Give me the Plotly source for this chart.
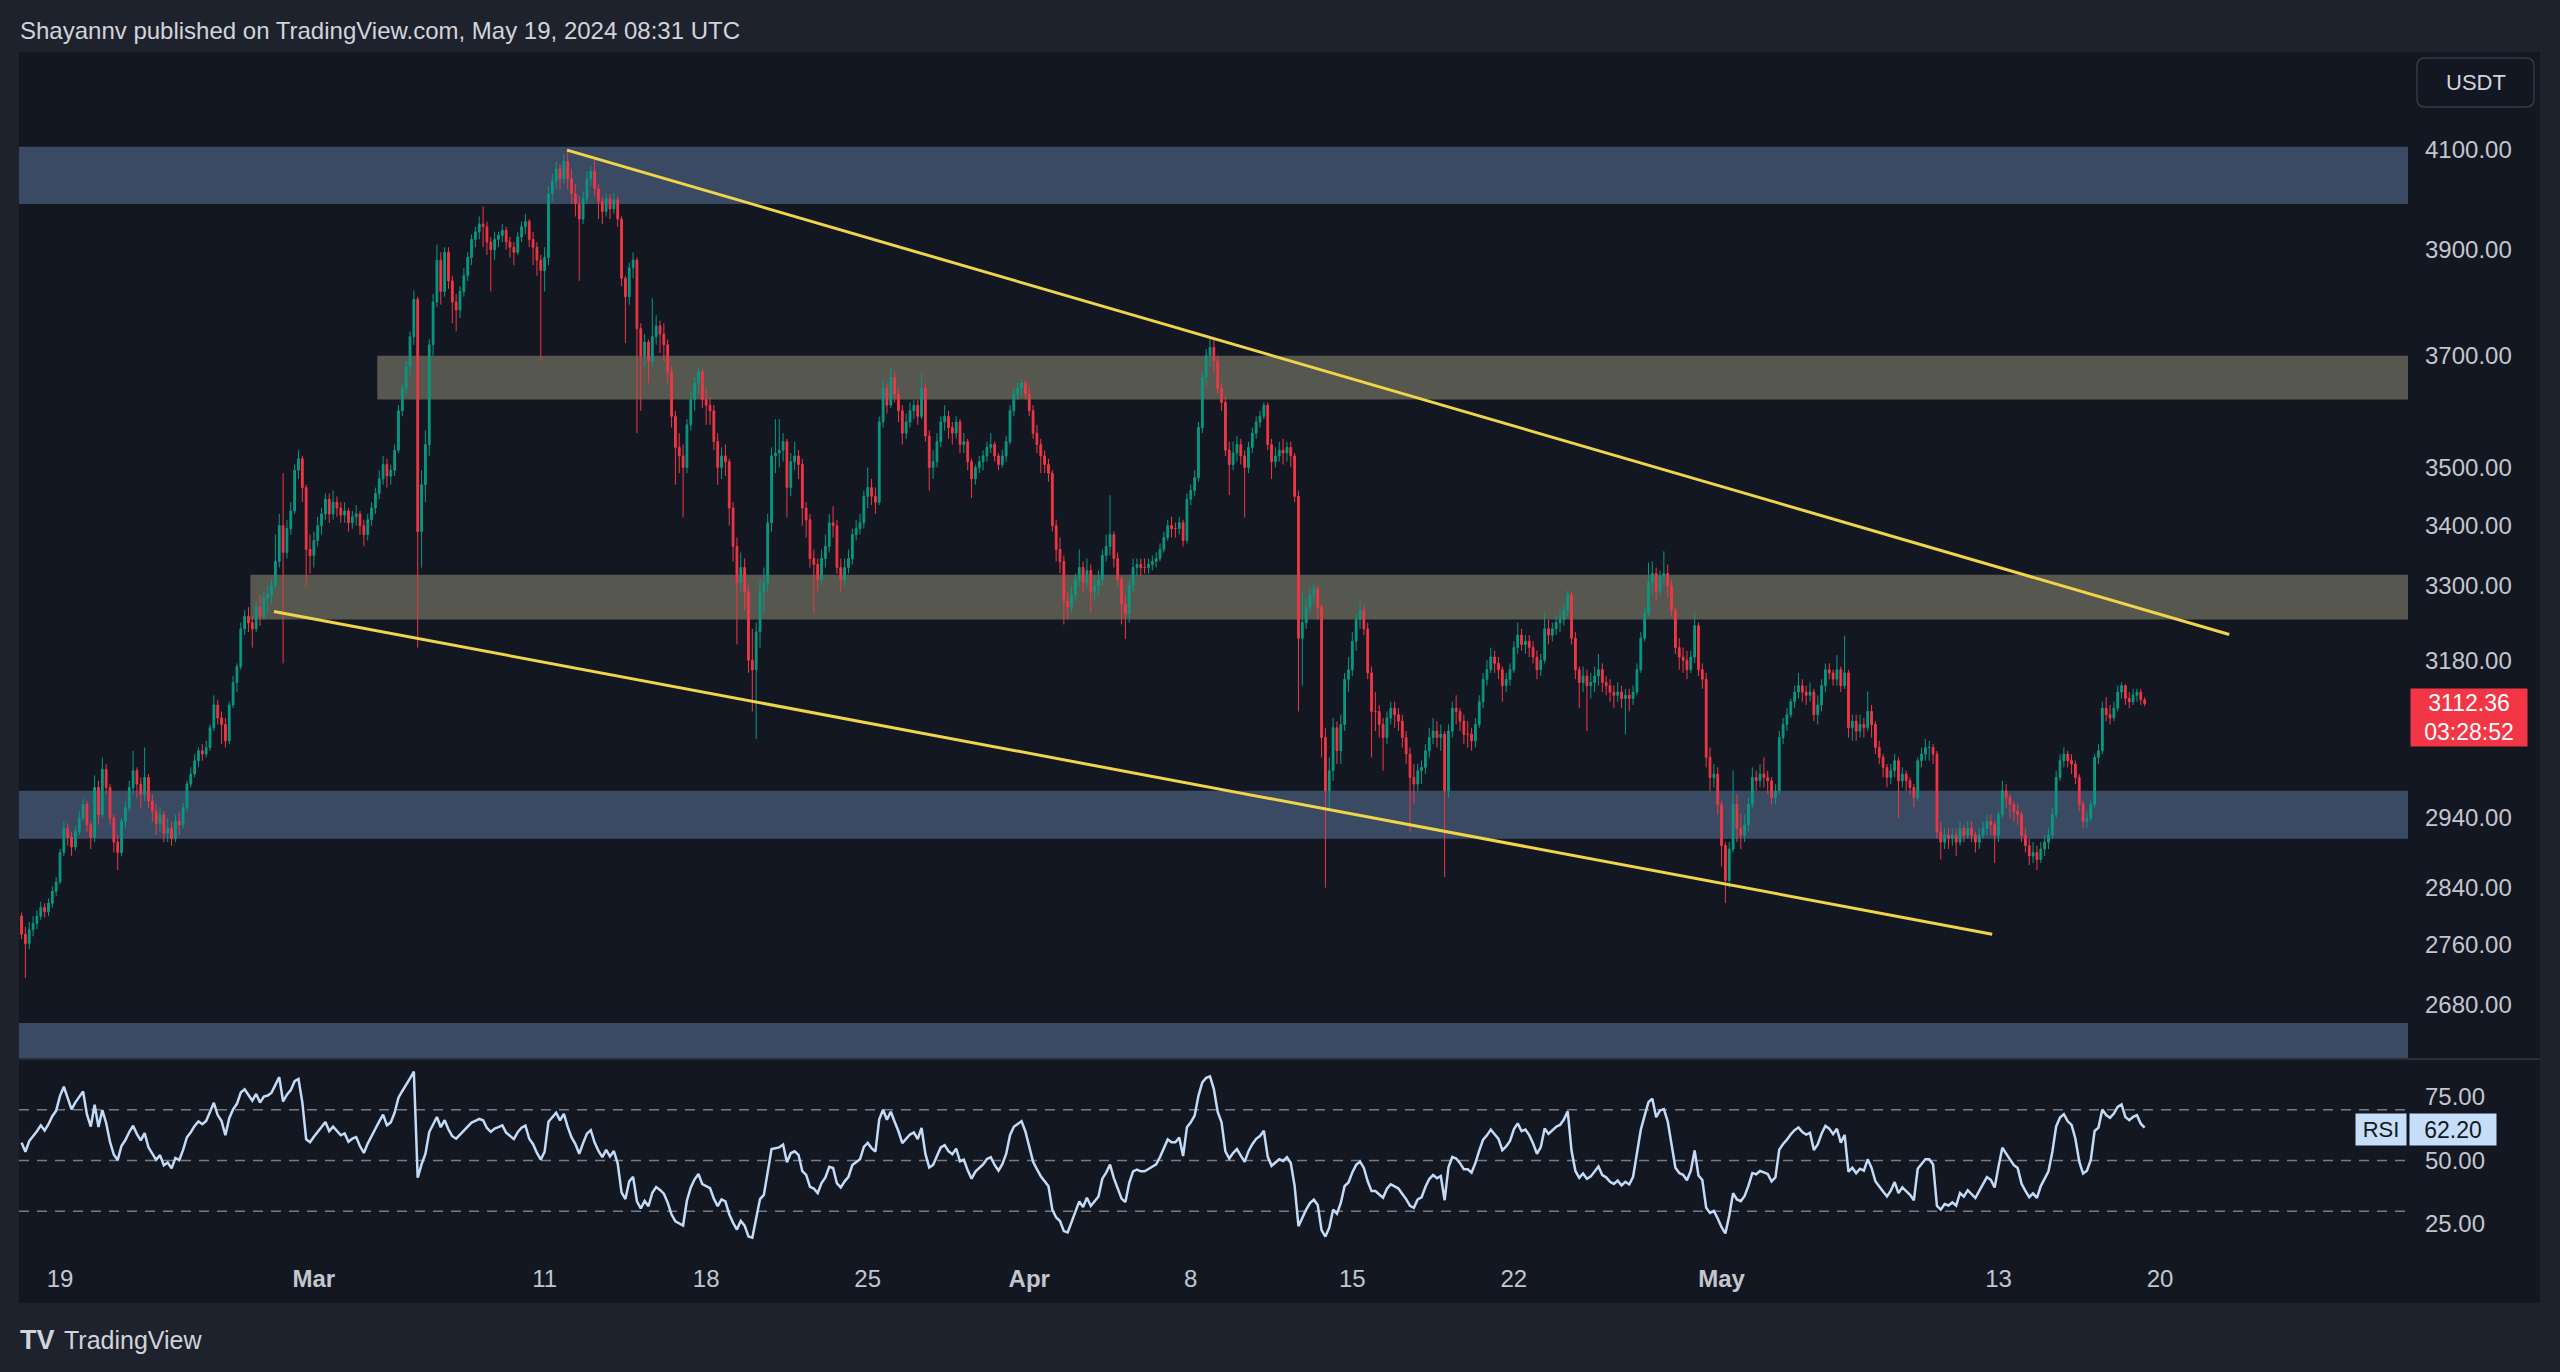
import math

import pandas as pd
import plotly.graph_objects as go

# ============================================
# Data: ETH/USDT 4h candles
# first bar opens Feb 17 08:00, last one is the live May 19 08:00 bar
# ============================================
FIRST_BAR = "2024-02-17 08:00"
first_open = 2800

close = [
    2775, 2762, 2781, 2790,                      # Feb 17
    2800, 2812, 2806, 2818, 2835, 2848,          # Feb 18
    2890, 2925, 2912, 2898, 2920, 2940,          # Feb 19
    2960, 2930, 2912, 2985, 2945, 3012,          # Feb 20
    2985, 2940, 2905, 2890, 2935, 2955,          # Feb 21
    2985, 3010, 2990, 2975, 3000, 2965,          # Feb 22
    2950, 2932, 2945, 2918, 2925, 2910,          # Feb 23
    2935, 2930, 2955, 2990, 3005, 3025,          # Feb 24
    3040, 3035, 3045, 3075, 3110, 3090,          # Feb 25
    3080, 3055, 3110, 3145, 3170, 3230,          # Feb 26
    3250, 3240, 3230, 3265, 3250, 3280,          # Feb 27
    3285, 3300, 3340, 3400, 3355, 3395,          # Feb 28
    3425, 3495, 3515, 3465, 3360, 3350,          # Feb 29
    3375, 3400, 3420, 3445, 3420, 3440,          # Mar 1
    3430, 3418, 3425, 3405, 3415, 3420,          # Mar 2
    3400, 3385, 3410, 3430, 3455, 3480,          # Mar 3
    3505, 3485, 3495, 3530, 3600, 3640,          # Mar 4
    3680, 3735, 3805, 3390, 3470, 3540,          # Mar 5
    3720, 3800, 3880, 3820, 3895, 3840,          # Mar 6
    3800, 3785, 3820, 3850, 3885, 3920,          # Mar 7
    3935, 3950, 3945, 3915, 3900, 3920,          # Mar 8
    3928, 3938, 3915, 3905, 3895, 3925,          # Mar 9
    3945, 3955, 3920, 3905, 3880, 3860,          # Mar 10
    3885, 4010, 4035, 4060, 4040, 4075,          # Mar 11
    4040, 4010, 3990, 3960, 4000, 4040,          # Mar 12
    4055, 4020, 3995, 3975, 4000, 3980,          # Mar 13
    3998, 3960, 3845, 3810, 3865, 3880,          # Mar 14
    3750, 3700, 3725, 3690, 3735, 3755,          # Mar 15
    3740, 3720, 3670, 3590, 3535, 3520,          # Mar 16
    3500, 3575, 3620, 3650, 3670, 3620,          # Mar 17
    3610, 3600, 3545, 3500, 3520, 3510,          # Mar 18
    3430, 3365, 3305, 3330, 3290, 3180,          # Mar 19
    3165, 3225, 3290, 3305, 3405, 3520,          # Mar 20
    3525, 3530, 3545, 3465, 3510, 3520,          # Mar 21
    3505, 3430, 3410, 3345, 3335, 3310,          # Mar 22
    3345, 3365, 3405, 3400, 3330, 3310,          # Mar 23
    3330, 3345, 3385, 3395, 3405, 3450,          # Mar 24
    3465, 3450, 3440, 3580, 3640, 3610,          # Mar 25
    3660, 3630, 3600, 3560, 3580, 3600,          # Mar 26
    3610, 3590, 3640, 3555, 3500, 3510,          # Mar 27
    3545, 3580, 3590, 3570, 3560, 3580,          # Mar 28
    3540, 3545, 3510, 3480, 3500, 3510,          # Mar 29
    3520, 3535, 3540, 3520, 3505, 3520,          # Mar 30
    3545, 3600, 3630, 3640, 3650, 3630,          # Mar 31
    3600, 3560, 3540, 3520, 3505, 3490,          # Apr 1
    3400, 3360, 3340, 3275, 3265, 3285,          # Apr 2
    3310, 3330, 3305, 3325, 3290, 3300,          # Apr 3
    3310, 3350, 3365, 3385, 3345, 3310,          # Apr 4
    3270, 3255, 3300, 3330, 3335, 3330,          # Apr 5
    3330, 3335, 3340, 3345, 3360, 3380,          # Apr 6
    3400, 3395, 3395, 3405, 3375, 3445,          # Apr 7
    3460, 3482, 3570, 3660, 3700, 3715,          # Apr 8
    3690, 3640, 3615, 3530, 3505, 3525,          # Apr 9
    3540, 3520, 3500, 3535, 3560, 3580,          # Apr 10
    3590, 3610, 3540, 3510, 3520, 3530,          # Apr 11
    3525, 3535, 3520, 3450, 3215, 3240,          # Apr 12
    3265, 3285, 3295, 3265, 3060, 2980,          # Apr 13
    3010, 3075, 3040, 3080, 3150, 3165,          # Apr 14
    3210, 3245, 3260, 3230, 3160, 3100,          # Apr 15
    3100, 3080, 3060, 3090, 3105, 3095,          # Apr 16
    3085, 3060, 3035, 3000, 2990, 3010,          # Apr 17
    3015, 3040, 3060, 3070, 3060, 3065,          # Apr 18
    2980, 3070, 3105, 3100, 3085, 3065,          # Apr 19
    3065, 3055, 3080, 3115, 3150, 3165,          # Apr 20
    3185, 3175, 3165, 3140, 3150, 3165,          # Apr 21
    3200, 3220, 3205, 3210, 3200, 3185,          # Apr 22
    3165, 3180, 3230, 3220, 3230, 3240,          # Apr 23
    3245, 3260, 3285, 3215, 3165, 3145,          # Apr 24
    3155, 3140, 3145, 3155, 3165, 3145,          # Apr 25
    3140, 3130, 3125, 3130, 3120, 3125,          # Apr 26
    3120, 3130, 3165, 3215, 3255, 3305,          # Apr 27
    3320, 3290, 3315, 3320, 3300, 3260,          # Apr 28
    3200, 3185, 3180, 3165, 3185, 3235,          # Apr 29
    3165, 3150, 3030, 3000, 3005, 2960,          # Apr 30
    2900, 2850, 2895, 2960, 2925, 2915,          # May 1
    2930, 2960, 3000, 2995, 3005, 3000,          # May 2
    2995, 2970, 2980, 3060, 3080, 3095,          # May 3
    3115, 3130, 3140, 3130, 3125, 3130,          # May 4
    3095, 3110, 3140, 3165, 3160, 3150,          # May 5
    3165, 3140, 3160, 3075, 3085, 3070,          # May 6
    3080, 3075, 3100, 3080, 3045, 3030,          # May 7
    3015, 3000, 3010, 3025, 2995, 3005,          # May 8
    2995, 2985, 2970, 3025, 3035, 3045,          # May 9
    3045, 3035, 2920, 2905, 2915, 2910,          # May 10
    2915, 2905, 2925, 2915, 2925, 2915,          # May 11
    2905, 2915, 2925, 2935, 2930, 2915,          # May 12
    2945, 2980, 2970, 2960, 2950, 2945,          # May 13
    2915, 2900, 2885, 2890, 2880, 2895,          # May 14
    2905, 2915, 2945, 3000, 3025, 3035,          # May 15
    3025, 3020, 3000, 2960, 2935, 2940,          # May 16
    2960, 3030, 3040, 3105, 3095, 3090,          # May 17
    3105, 3130, 3140, 3120, 3115, 3125,          # May 18
    3130, 3118, 3112.36,                         # May 19
]

high = [
    2805, 2785, 2792, 2800,
    2808, 2820, 2818, 2825, 2842, 2855,
    2895, 2935, 2932, 2920, 2928, 2950,
    2968, 2965, 2935, 3003, 2995, 3030,
    3020, 2990, 2945, 2915, 2940, 2965,
    2995, 3040, 3015, 3000, 3045, 3005,
    2975, 2960, 2955, 2950, 2940, 2935,
    2945, 2948, 2962, 2995, 3015, 3035,
    3045, 3050, 3055, 3080, 3125, 3118,
    3100, 3090, 3115, 3155, 3175, 3240,
    3260, 3265, 3250, 3275, 3285, 3290,
    3300, 3310, 3385, 3420, 3490, 3410,
    3440, 3505, 3530, 3520, 3470, 3385,
    3390, 3415, 3430, 3455, 3455, 3460,
    3450, 3440, 3440, 3430, 3425, 3435,
    3425, 3410, 3420, 3440, 3465, 3495,
    3520, 3515, 3505, 3540, 3610, 3650,
    3690, 3745, 3822, 3810, 3495, 3565,
    3730, 3815, 3910, 3895, 3905, 3905,
    3850, 3815, 3830, 3865, 3895, 3930,
    3945, 3965, 3985, 3955, 3925, 3935,
    3935, 3950, 3945, 3925, 3915, 3935,
    3955, 3970, 3960, 3935, 3915, 3890,
    3905, 4025, 4050, 4075, 4070, 4090,
    4098, 4060, 4030, 4005, 4015, 4055,
    4065, 4085, 4030, 4005, 4010, 4010,
    4012, 4005, 3965, 3850, 3875, 3895,
    3885, 3760, 3740, 3730, 3807, 3775,
    3765, 3760, 3730, 3680, 3600, 3560,
    3540, 3585, 3635, 3660, 3680, 3675,
    3640, 3625, 3610, 3560, 3535, 3540,
    3515, 3440, 3380, 3355, 3345, 3300,
    3230, 3240, 3310, 3330, 3420, 3535,
    3585, 3585, 3560, 3550, 3525, 3545,
    3530, 3515, 3440, 3420, 3360, 3345,
    3360, 3385, 3420, 3433, 3410, 3345,
    3345, 3360, 3395, 3410, 3420, 3460,
    3500, 3480, 3465, 3590, 3655, 3650,
    3677, 3670, 3640, 3610, 3595, 3615,
    3620, 3620, 3667, 3650, 3565, 3530,
    3560, 3590, 3610, 3600, 3580, 3590,
    3585, 3560, 3550, 3515, 3505, 3520,
    3530, 3545, 3560, 3545, 3525, 3530,
    3555, 3610, 3640, 3650, 3657, 3655,
    3645, 3610, 3575, 3550, 3530, 3515,
    3495, 3410, 3380, 3350, 3290, 3300,
    3320, 3360, 3340, 3345, 3335, 3315,
    3325, 3360, 3385, 3452, 3390, 3355,
    3315, 3285, 3310, 3345, 3345, 3345,
    3345, 3345, 3350, 3355, 3370, 3390,
    3410, 3415, 3405, 3415, 3410, 3455,
    3470, 3495, 3580, 3670, 3712, 3735,
    3730, 3700, 3650, 3625, 3545, 3545,
    3555, 3550, 3530, 3545, 3570, 3590,
    3600, 3615, 3615, 3550, 3535, 3545,
    3550, 3545, 3545, 3525, 3460, 3290,
    3280, 3295, 3305, 3300, 3270, 3075,
    3030, 3090, 3085, 3095, 3160, 3185,
    3225, 3255, 3275, 3270, 3240, 3170,
    3130, 3110, 3090, 3100, 3115, 3115,
    3105, 3095, 3070, 3045, 3020, 3020,
    3025, 3050, 3075, 3090, 3085, 3080,
    3070, 3080, 3115, 3125, 3105, 3095,
    3085, 3075, 3090, 3125, 3160, 3180,
    3200, 3195, 3185, 3170, 3160, 3175,
    3210, 3240, 3230, 3220, 3220, 3210,
    3195, 3190, 3255, 3245, 3240, 3250,
    3260, 3270, 3292, 3290, 3225, 3170,
    3170, 3165, 3160, 3170, 3190, 3175,
    3155, 3150, 3140, 3145, 3140, 3135,
    3135, 3140, 3175, 3225, 3265, 3338,
    3340, 3330, 3325, 3357, 3335, 3310,
    3265, 3215, 3200, 3195, 3195, 3255,
    3240, 3175, 3160, 3045, 3020, 3015,
    2965, 2905, 2905, 3010, 2975, 2945,
    2945, 2970, 3015, 3010, 3020, 3030,
    3010, 3000, 2990, 3070, 3090, 3105,
    3120, 3140, 3160, 3150, 3140, 3145,
    3135, 3125, 3150, 3175, 3175, 3165,
    3188, 3170, 3219, 3165, 3095, 3095,
    3095, 3090, 3131, 3110, 3085, 3055,
    3035, 3020, 3020, 3035, 3030, 3015,
    3010, 3000, 2990, 3030, 3045, 3058,
    3055, 3050, 3040, 2935, 2925, 2925,
    2925, 2925, 2935, 2930, 2935, 2935,
    2920, 2925, 2935, 2945, 2945, 2935,
    2950, 2995, 2990, 2975, 2965, 2960,
    2950, 2925, 2910, 2905, 2900, 2905,
    2915, 2925, 2955, 3010, 3035, 3045,
    3040, 3035, 3025, 3005, 2965, 2950,
    2965, 3035, 3050, 3115, 3122, 3110,
    3115, 3140, 3145, 3142, 3130, 3135,
    3135, 3135, 3122,
]

low = [
    2768, 2715, 2755, 2772,
    2782, 2795, 2798, 2800, 2812, 2828,
    2845, 2885, 2900, 2885, 2893, 2915,
    2935, 2920, 2895, 2905, 2930, 2940,
    2975, 2930, 2890, 2865, 2885, 2925,
    2950, 2975, 2970, 2955, 2965, 2955,
    2935, 2915, 2920, 2905, 2905, 2900,
    2905, 2915, 2925, 2950, 2985, 3000,
    3015, 3025, 3030, 3040, 3070, 3080,
    3050, 3045, 3050, 3105, 3130, 3165,
    3220, 3225, 3200, 3225, 3235, 3245,
    3255, 3270, 3295, 3330, 3175, 3345,
    3385, 3420, 3480, 3440, 3300, 3320,
    3330, 3365, 3385, 3410, 3405, 3410,
    3415, 3405, 3405, 3390, 3395, 3400,
    3385, 3365, 3375, 3400, 3420, 3445,
    3470, 3465, 3470, 3485, 3525, 3590,
    3630, 3665, 3720, 3200, 3330, 3440,
    3520, 3700, 3790, 3795, 3810, 3825,
    3760, 3745, 3770, 3810, 3840, 3870,
    3905, 3920, 3905, 3890, 3820, 3880,
    3905, 3915, 3900, 3885, 3870, 3890,
    3915, 3930, 3905, 3870, 3850, 3690,
    3820, 3870, 3995, 4020, 4020, 4030,
    4020, 3990, 3965, 3840, 3950, 3990,
    4025, 4005, 3960, 3950, 3965, 3960,
    3970, 3945, 3830, 3723, 3795, 3845,
    3560, 3600, 3680, 3650, 3680, 3720,
    3705, 3690, 3650, 3570, 3470, 3490,
    3414, 3490, 3565, 3600, 3630, 3605,
    3575, 3575, 3530, 3470, 3480, 3485,
    3400, 3340, 3205, 3290, 3260, 3160,
    3100, 3058, 3200, 3255, 3290, 3390,
    3490, 3500, 3510, 3414, 3450, 3495,
    3480, 3400, 3380, 3330, 3255, 3290,
    3300, 3330, 3355, 3380, 3320, 3290,
    3300, 3320, 3335, 3375, 3385, 3395,
    3430, 3435, 3420, 3435, 3570, 3595,
    3605, 3615, 3580, 3540, 3550, 3570,
    3585, 3575, 3585, 3545, 3460, 3480,
    3500, 3535, 3565, 3550, 3540, 3550,
    3525, 3525, 3495, 3447, 3470, 3490,
    3495, 3510, 3525, 3510, 3495, 3500,
    3510, 3540, 3590, 3620, 3625, 3620,
    3590, 3550, 3525, 3490, 3490, 3475,
    3390, 3340, 3320, 3237, 3245, 3255,
    3275, 3300, 3290, 3295, 3255, 3275,
    3285, 3300, 3340, 3350, 3330, 3300,
    3237, 3214, 3240, 3290, 3315, 3315,
    3320, 3320, 3325, 3330, 3340, 3355,
    3375, 3380, 3380, 3385, 3365, 3370,
    3435, 3450, 3475, 3560, 3645, 3680,
    3670, 3630, 3600, 3520, 3452, 3495,
    3510, 3505, 3414, 3490, 3525, 3550,
    3570, 3585, 3530, 3480, 3500, 3510,
    3505, 3510, 3500, 3440, 3100, 3140,
    3230, 3255, 3270, 3245, 3030, 2840,
    2955, 2995, 3020, 3020, 3070, 3130,
    3155, 3195, 3230, 3220, 3150, 3030,
    3070, 3060, 3010, 3050, 3080, 3075,
    3070, 3045, 3020, 2920, 2960, 2980,
    2990, 3005, 3030, 3050, 3045, 3040,
    2855, 2970, 3060, 3080, 3070, 3050,
    3045, 3040, 3045, 3075, 3105, 3140,
    3160, 3160, 3150, 3115, 3130, 3140,
    3160, 3190, 3195, 3190, 3185, 3175,
    3150, 3155, 3175, 3205, 3210, 3220,
    3225, 3235, 3250, 3205, 3150, 3105,
    3130, 3070, 3120, 3130, 3140, 3130,
    3125, 3115, 3105, 3115, 3105, 3065,
    3100, 3110, 3125, 3160, 3210, 3250,
    3285, 3275, 3285, 3300, 3280, 3250,
    3190, 3165, 3160, 3150, 3160, 3175,
    3155, 3135, 3015, 2980, 2985, 2945,
    2870, 2818, 2840, 2890, 2905, 2895,
    2905, 2920, 2955, 2980, 2985, 2985,
    2975, 2960, 2960, 2975, 3050, 3070,
    3090, 3105, 3120, 3115, 3110, 3115,
    3085, 3080, 3100, 3130, 3150, 3140,
    3140, 3130, 3135, 3060, 3055, 3055,
    3060, 3060, 3070, 3060, 3035, 3020,
    3000, 2985, 2990, 3000, 2940, 2985,
    2980, 2975, 2955, 2965, 3015, 3025,
    3025, 3020, 2910, 2880, 2895, 2895,
    2900, 2885, 2900, 2905, 2910, 2905,
    2890, 2895, 2910, 2915, 2915, 2875,
    2905, 2940, 2955, 2940, 2935, 2930,
    2905, 2890, 2872, 2875, 2865, 2875,
    2885, 2895, 2910, 2940, 2995, 3015,
    3015, 3005, 2990, 2950, 2925, 2925,
    2935, 2955, 3020, 3035, 3085, 3080,
    3085, 3100, 3120, 3110, 3105, 3110,
    3115, 3110, 3108,
]

# RSI(14) state carried in from before the first visible bar
# (average gain / loss that put the line at ~57 on the left edge)
rsi_period = 14
rsi_avg_gain0 = 8.5
rsi_avg_loss0 = 6.4

# support / resistance zones drawn on the chart
zone_low = [3990, 3620, 3245, 2910, 2560]
zone_high = [4105, 3700, 3318, 2980, 2655]
zone_start = [None, "2024-03-03 18:00", "2024-02-27 06:00", None, None]
zone_kind = ["blue", "gray", "gray", "blue", "blue"]

# falling wedge trendlines
upper_x = ["2024-03-11 23:20", "2024-05-23 00:00"]
upper_y = [4098, 3221]
lower_x = ["2024-02-28 06:30", "2024-05-12 17:30"]
lower_y = [3258, 2775]

price_ticks = [2680, 2760, 2840, 2940, 3180, 3300, 3400, 3500, 3700, 3900, 4100]
rsi_ticks = [25, 50, 75]
rsi_levels = [70, 50, 30]
date_ticks = [
    "2024-02-19", "2024-03-01", "2024-03-11", "2024-03-18", "2024-03-25", "2024-04-01",
    "2024-04-08", "2024-04-15", "2024-04-22", "2024-05-01", "2024-05-13", "2024-05-20",
]
date_labels = ["19", "<b>Mar</b>", "11", "18", "25", "<b>Apr</b>", "8", "15", "22", "<b>May</b>", "13", "20"]

HEADER = "Shayannv published on TradingView.com, May 19, 2024 08:31 UTC"
COUNTDOWN = "03:28:52"
RSI_LAST = "62.20"

# ============================================
# Styling / geometry (pixels of the 2560x1372 page)
# ============================================
W, H = 2560, 1372
PLOT_L, PLOT_R, AXIS_R = 19, 2408, 2540
TOP, SPLIT, RSI_BOT, BOTTOM = 52, 1059, 1262, 1303
X_START, X_END = "2024-02-17 05:21", "2024-05-30 17:54"
PRICE_MIN, PRICE_MAX = 2608, 4303

OUTER = "#1e222d"
CHART_BG = "#131722"
UP, DOWN = "#089981", "#f23645"
ZONE_COLORS = {"blue": "#3a4a62", "gray": "#56574f"}
TREND = "#f0d44a"
RSI_COLOR = "#c3dbf6"
TEXT = "#d1d4dc"
AXIS_TEXT = "#c3c6ce"
FONT = "Liberation Sans, Arial, sans-serif"


def px(x):
    return x / W


def py(y):
    return 1 - y / H


times = pd.date_range(FIRST_BAR, periods=len(close), freq="4h")
opens = [first_open] + close[:-1]

# RSI with Wilder smoothing, continued from the carried-in averages
avg_g, avg_l = rsi_avg_gain0, rsi_avg_loss0
rsi = [100 - 100 / (1 + avg_g / avg_l)]
for prev, cur in zip(close[:-1], close[1:]):
    d = cur - prev
    avg_g = (avg_g * (rsi_period - 1) + max(d, 0)) / rsi_period
    avg_l = (avg_l * (rsi_period - 1) + max(-d, 0)) / rsi_period
    rsi.append(100 - 100 / (1 + avg_g / avg_l))

fig = go.Figure()

fig.add_trace(
    go.Candlestick(
        x=times,
        open=opens,
        high=high,
        low=low,
        close=close,
        xaxis="x2",
        yaxis="y",
        increasing=dict(line=dict(color=UP, width=1), fillcolor=UP),
        decreasing=dict(line=dict(color=DOWN, width=1), fillcolor=DOWN),
        hoverinfo="skip",
        showlegend=False,
    )
)

for tx, ty in ((upper_x, upper_y), (lower_x, lower_y)):
    fig.add_trace(
        go.Scatter(
            x=tx, y=ty, mode="lines", xaxis="x2", yaxis="y",
            line=dict(color=TREND, width=3), hoverinfo="skip", showlegend=False,
        )
    )

fig.add_trace(
    go.Scatter(
        x=times, y=rsi, mode="lines", xaxis="x", yaxis="y2",
        line=dict(color=RSI_COLOR, width=2.5), hoverinfo="skip", showlegend=False,
    )
)

# chart background panel
fig.add_shape(
    type="rect", xref="paper", yref="paper",
    x0=px(PLOT_L), x1=px(AXIS_R), y0=py(BOTTOM), y1=py(TOP),
    fillcolor=CHART_BG, line_width=0, layer="below",
)

for lo, hi, start, kind in zip(zone_low, zone_high, zone_start, zone_kind):
    fig.add_shape(
        type="rect", xref="x2", yref="y",
        x0=start or X_START, x1=X_END, y0=lo, y1=hi,
        fillcolor=ZONE_COLORS[kind], line_width=0, layer="below",
    )

for lvl in rsi_levels:
    fig.add_shape(
        type="line", xref="x domain", yref="y2", x0=0, x1=1, y0=lvl, y1=lvl,
        line=dict(color="#787b86", width=1.5, dash="10px,8px"), layer="below",
    )

# pane separator
fig.add_shape(
    type="line", xref="paper", yref="paper",
    x0=px(PLOT_L), x1=px(AXIS_R), y0=py(SPLIT), y1=py(SPLIT),
    line=dict(color="#2a2e39", width=2),
)

# currency box (rounded outline)
bx0, bx1, by0, by1, r = 2417, 2534, 58, 107, 8
fig.add_shape(
    type="path", xref="paper", yref="paper",
    path=(
        f"M {px(bx0 + r)},{py(by0)} L {px(bx1 - r)},{py(by0)} "
        f"Q {px(bx1)},{py(by0)} {px(bx1)},{py(by0 + r)} L {px(bx1)},{py(by1 - r)} "
        f"Q {px(bx1)},{py(by1)} {px(bx1 - r)},{py(by1)} L {px(bx0 + r)},{py(by1)} "
        f"Q {px(bx0)},{py(by1)} {px(bx0)},{py(by1 - r)} L {px(bx0)},{py(by0 + r)} "
        f"Q {px(bx0)},{py(by0)} {px(bx0 + r)},{py(by0)} Z"
    ),
    line=dict(color="#363a45", width=1.5), fillcolor=CHART_BG,
)
fig.add_annotation(
    xref="paper", yref="paper", x=px((bx0 + bx1) / 2), y=py((by0 + by1) / 2),
    xanchor="center", yanchor="middle", text="USDT", showarrow=False,
    font=dict(family=FONT, size=22, color=TEXT),
)

# header + logo
fig.add_annotation(
    xref="paper", yref="paper", x=px(18), y=py(31), xanchor="left", yanchor="middle",
    text=HEADER, showarrow=False, font=dict(family=FONT, size=24, color=TEXT),
)
fig.add_annotation(
    xref="paper", yref="paper", x=px(18), y=py(1340), xanchor="left", yanchor="middle",
    text="<b>TV</b>", showarrow=False, font=dict(family=FONT, size=27, color=TEXT),
)
fig.add_annotation(
    xref="paper", yref="paper", x=px(62), y=py(1340), xanchor="left", yanchor="middle",
    text="TradingView", showarrow=False, font=dict(family=FONT, size=25, color=TEXT),
)

# last price tag
last = close[-1]
fig.add_annotation(
    xref="paper", yref="y", x=px(2410), y=math.log10(last), xanchor="left", yanchor="middle",
    yshift=-14, text=f"{last:.2f}<br>{COUNTDOWN}", showarrow=False, width=114, height=55,
    bgcolor=DOWN, borderpad=1, align="center",
    font=dict(family=FONT, size=23, color="white"),
)

# RSI tag
fig.add_annotation(
    xref="paper", yref="y2", x=px(2407), y=float(RSI_LAST), xanchor="right", yanchor="middle",
    text="RSI", showarrow=False, width=48, height=29, bgcolor="#c6def7", borderpad=1,
    font=dict(family=FONT, size=22, color="#131722"),
)
fig.add_annotation(
    xref="paper", yref="y2", x=px(2409), y=float(RSI_LAST), xanchor="left", yanchor="middle",
    text=RSI_LAST, showarrow=False, width=84, height=29, bgcolor="#c6def7", borderpad=1,
    font=dict(family=FONT, size=23, color="#131722"),
)

fig.update_layout(
    width=W,
    height=H,
    margin=dict(l=0, r=0, t=0, b=0),
    paper_bgcolor=OUTER,
    plot_bgcolor=CHART_BG,
    font=dict(family=FONT, color=AXIS_TEXT),
    showlegend=False,
    boxgap=0.35,
    xaxis=dict(
        type="date", domain=[px(PLOT_L), px(PLOT_R)], range=[X_START, X_END], anchor="y2",
        tickvals=date_ticks, ticktext=date_labels, ticks="", showgrid=False, zeroline=False,
        showline=False, tickfont=dict(size=24, color=AXIS_TEXT),
    ),
    xaxis2=dict(
        type="date", domain=[px(PLOT_L), px(PLOT_R)], range=[X_START, X_END], anchor="y",
        matches="x", showticklabels=False, showgrid=False, zeroline=False,
        rangeslider=dict(visible=False),
    ),
    yaxis=dict(
        type="log", domain=[py(SPLIT), py(TOP)],
        range=[math.log10(PRICE_MIN), math.log10(PRICE_MAX)],
        side="right", anchor="x2", tickvals=price_ticks,
        ticktext=[f"{v:.2f}" for v in price_ticks], ticks="", ticklabelstandoff=16,
        showgrid=False, zeroline=False, tickfont=dict(size=24, color=AXIS_TEXT),
    ),
    yaxis2=dict(
        domain=[py(RSI_BOT), py(SPLIT)], range=[10, 90], side="right", anchor="x",
        tickvals=rsi_ticks, ticktext=[f"{v:.2f}" for v in rsi_ticks], ticks="",
        ticklabelstandoff=16, showgrid=False, zeroline=False,
        tickfont=dict(size=24, color=AXIS_TEXT),
    ),
)

# the page body gets the frame colour and no default margin; no modebar
fig.write_html(
    "out.html",
    config={"displayModeBar": False},
    post_script="document.body.style.margin='0';document.body.style.background='%s';" % OUTER,
)
